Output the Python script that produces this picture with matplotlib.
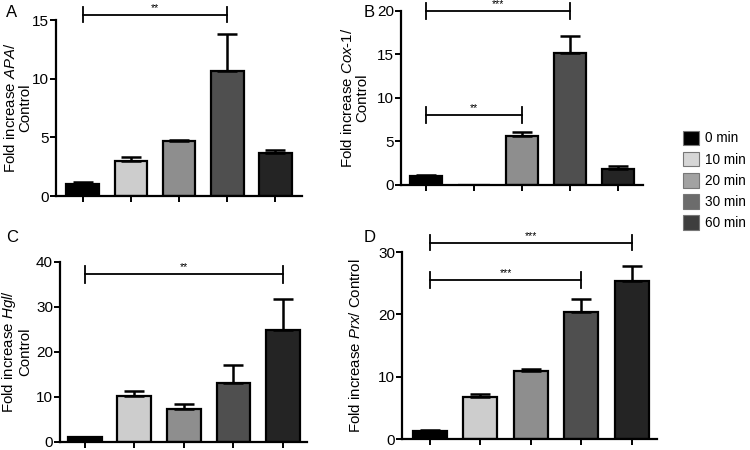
import matplotlib.pyplot as plt
from matplotlib.patches import Patch

plt.rcParams['font.family'] = ['Liberation Sans', 'DejaVu Sans']
plt.rcParams['mathtext.fontset'] = 'custom'
plt.rcParams['mathtext.rm'] = 'Liberation Sans'
plt.rcParams['mathtext.it'] = 'Liberation Sans:italic'

# time points / legend
times = ['0 min', '10 min', '20 min', '30 min', '60 min']
bar_colors = ['#000000', '#cdcdcd', '#8e8e8e', '#4f4f4f', '#242424']
legend_colors = ['#000000', '#d6d6d6', '#a2a2a2', '#6c6c6c', '#3e3e3e']

# panel A: APA
apa_mean = [1.05, 3.0, 4.7, 10.65, 3.65]
apa_err = [0.12, 0.3, 0.06, 3.15, 0.28]
# panel B: Cox-1
cox_mean = [1.07, 0.05, 5.62, 15.2, 1.84]
cox_err = [0.08, 0.0, 0.5, 1.85, 0.34]
# panel C: Hgl
hgl_mean = [1.1, 10.3, 7.3, 13.2, 24.9]
hgl_err = [0.1, 1.1, 1.2, 3.8, 6.8]
# panel D: Prx
prx_mean = [1.28, 6.8, 10.9, 20.3, 25.4]
prx_err = [0.15, 0.4, 0.4, 2.1, 2.4]

# significance brackets: (from bar, to bar, y level, half cap, label)
apa_sig = [(0, 3, 15.45, 0.65, '**')]
cox_sig = [(0, 3, 19.95, 0.9, '***'), (0, 2, 8.0, 0.9, '**')]
hgl_sig = [(0, 4, 37.3, 1.9, '**')]
prx_sig = [(0, 4, 31.5, 1.25, '***'), (0, 3, 25.5, 1.3, '***')]

fig = plt.figure(figsize=(7.5, 4.5), dpi=100)

panels = [
    # rect, letter, letter pos, mean, err, ylim, yticks, xlim, ylabel, label x, sig
    ([0.075, 0.5644, 0.328, 0.391], 'A', (0.008, 0.988), apa_mean, apa_err,
     15, [0, 5, 10, 15], (-0.55, 4.56), 'Fold increase $\\it{APA}$/\nControl', 32, apa_sig),
    ([0.535, 0.589, 0.322, 0.387], 'B', (0.485, 0.988), cox_mean, cox_err,
     20, [0, 5, 10, 15, 20], (-0.52, 4.52), 'Fold increase $\\it{Cox}$-$\\it{1}$/\nControl', 369, cox_sig),
    ([0.080, 0.0178, 0.329, 0.400], 'C', (0.008, 0.49), hgl_mean, hgl_err,
     40, [0, 10, 20, 30, 40], (-0.5, 4.48), 'Fold increase $\\it{Hgl}$/\nControl', 32, hgl_sig),
    ([0.536, 0.0244, 0.340, 0.4156], 'D', (0.485, 0.49), prx_mean, prx_err,
     30, [0, 10, 20, 30], (-0.55, 4.5), 'Fold increase $\\it{Prx}$/ Control', 363, prx_sig),
]

x = list(range(len(times)))
for rect, letter, lpos, mean, err, ymax, yticks, xlim, ylabel, lab_px, sig in panels:
    ax = fig.add_axes(rect)
    ax.bar(x, mean, width=0.68, color=bar_colors, edgecolor='black', linewidth=1.6,
           yerr=[[0] * len(err), err], error_kw=dict(ecolor='black', elinewidth=1.8,
                                                      capsize=7, capthick=1.8))
    ax.set_ylim(0, ymax)
    ax.set_xlim(*xlim)
    ax.set_yticks(yticks)
    ax.set_xticks(x)
    ax.set_xticklabels([])
    for s in ['top', 'right']:
        ax.spines[s].set_visible(False)
    for s in ['left', 'bottom']:
        ax.spines[s].set_linewidth(1.6)
    ax.tick_params(width=1.4, length=4, labelsize=11, pad=1)
    ax.set_ylabel(ylabel, fontsize=10.8, linespacing=1.0)
    # label right edge given in pixels
    ax.yaxis.set_label_coords((lab_px - rect[0] * 750) / (rect[2] * 750), 0.5)
    fig.text(lpos[0], lpos[1], letter, fontsize=12, va='top', ha='left')
    for a, b, yl, h, lab in sig:
        ax.plot([a, b], [yl, yl], color='black', lw=1.3, clip_on=False)
        ax.plot([a, a], [yl - h, yl + h], color='black', lw=1.3, clip_on=False)
        ax.plot([b, b], [yl - h, yl + h], color='black', lw=1.3, clip_on=False)
        ax.text((a + b) / 2, yl + h * 0.25, lab, ha='center', va='bottom', fontsize=7.5)

handles = [Patch(facecolor=c, edgecolor='#777777', linewidth=0.8) for c in legend_colors]
fig.legend(handles, times, loc='upper left', bbox_to_anchor=(0.910, 0.71),
           frameon=False, fontsize=9.8, handlelength=1.2, handleheight=1.3,
           handletextpad=0.45, labelspacing=0.45, borderaxespad=0, borderpad=0)

fig.savefig('out.png', dpi=100)
